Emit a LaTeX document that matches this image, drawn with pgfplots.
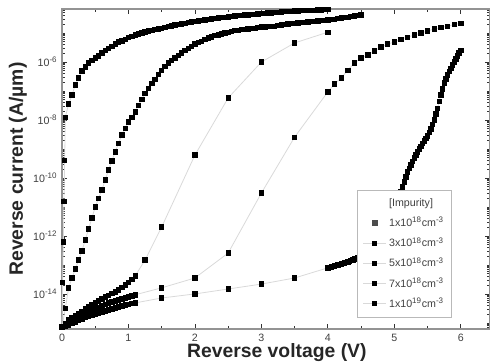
\documentclass[border=0pt]{standalone}
\usepackage{pgfplots}
\pgfplotsset{compat=1.18}
\usepackage{fontspec}
\setmainfont{Liberation Sans}
\begin{document}
\begin{tikzpicture}
\useasboundingbox (-46.5pt,-24.75pt) rectangle (321pt,246.75pt);
\begin{axis}[
  scale only axis, width=321pt, height=240pt,
  xmin=0, xmax=6.44, ymin=-15.21, ymax=-4.17,
  clip=false,
  axis line style={gray!85, line width=1.5pt},
  tick style={black!80, line width=0.6pt},
  major tick length=4pt, minor tick length=2.5pt, tick align=inside,
  xtick={0,1,2,3,4,5,6}, minor xtick={0.5,1.5,2.5,3.5,4.5,5.5},
  ytick={-14,-12,-10,-8,-6},
  yticklabels={10\textsuperscript{-14},10\textsuperscript{-12},10\textsuperscript{-10},10\textsuperscript{-8},10\textsuperscript{-6}},
  minor ytick={-15.155,-15.097,-15.046,-15,
   -14.699,-14.523,-14.398,-14.301,-14.222,-14.155,-14.097,-14.046,
   -13.699,-13.523,-13.398,-13.301,-13.222,-13.155,-13.097,-13.046,-13,
   -12.699,-12.523,-12.398,-12.301,-12.222,-12.155,-12.097,-12.046,
   -11.699,-11.523,-11.398,-11.301,-11.222,-11.155,-11.097,-11.046,-11,
   -10.699,-10.523,-10.398,-10.301,-10.222,-10.155,-10.097,-10.046,
   -9.699,-9.523,-9.398,-9.301,-9.222,-9.155,-9.097,-9.046,-9,
   -8.699,-8.523,-8.398,-8.301,-8.222,-8.155,-8.097,-8.046,
   -7.699,-7.523,-7.398,-7.301,-7.222,-7.155,-7.097,-7.046,-7,
   -6.699,-6.523,-6.398,-6.301,-6.222,-6.155,-6.097,-6.046,
   -5.699,-5.523,-5.398,-5.301,-5.222,-5.155,-5.097,-5.046,-5,
   -4.699,-4.523,-4.398,-4.301,-4.222},
  /pgf/number format/assume math mode=true,
  ticklabel style={font=\fontsize{8}{9}\selectfont, text=black!75},
  xlabel={Reverse voltage (V)},
  ylabel={Reverse current (A/\textmu m)},
  label style={font=\bfseries\fontsize{14.5}{16}\selectfont, text=black!85},
  xlabel style={at={(axis description cs:0.502,-0.072)}, anchor=center},
  ylabel style={at={(axis description cs:-0.1028,0.5)}, anchor=center},
  ser/.style={color=gray!30, line width=0.6pt,
    mark=square*, mark size=1.65pt, mark options={draw=black, fill=black}},
  legend style={at={(0.689,0.434)}, anchor=north west, draw=gray!55,
    line width=1pt, font=\fontsize{8}{9}\selectfont, text=black!75,
    row sep=2.6pt, inner xsep=4pt, inner ysep=4pt},
  legend cell align=left,
]
\addlegendimage{empty legend}
\addlegendentry{[Impurity]}
\addlegendimage{only marks, mark=square*, mark size=1.65pt, mark options={draw=black!70, fill=black!70}}
\addlegendentry{1x10\textsuperscript{18}cm\textsuperscript{-3}}
% 1e18
\addplot[ser, forget plot] coordinates {(0,-15.14) (0.05,-15.10) (0.1,-15.07) (0.15,-15.02) (0.2,-14.97) (0.25,-14.92) (0.3,-14.86) (0.35,-14.82) (0.4,-14.78) (0.45,-14.73) (0.5,-14.69) (0.55,-14.66) (0.6,-14.62) (0.65,-14.59) (0.7,-14.55) (0.75,-14.52) (0.8,-14.48) (0.85,-14.45) (0.9,-14.41) (0.95,-14.38) (1.0,-14.36) (1.05,-14.33) (1.1,-14.31) (1.5,-14.14) (2.0,-14.0) (2.5,-13.83) (3.0,-13.66) (3.5,-13.45) (4.0,-13.10) (4.025,-13.085) (4.05,-13.07) (4.075,-13.05) (4.1,-13.03) (4.125,-13.015) (4.15,-13.00) (4.175,-12.985) (4.2,-12.97) (4.225,-12.95) (4.25,-12.93) (4.275,-12.915) (4.3,-12.90) (4.325,-12.875) (4.35,-12.85) (4.375,-12.82) (4.4,-12.79) (4.425,-12.765) (4.45,-12.74) (4.475,-12.715) (4.5,-12.69) (4.525,-12.655) (4.55,-12.62) (4.575,-12.585) (4.6,-12.55) (4.625,-12.51) (4.65,-12.47) (4.675,-12.425) (4.7,-12.38) (4.725,-12.325) (4.75,-12.27) (4.775,-12.205) (4.8,-12.14) (4.825,-12.06) (4.85,-11.98) (4.875,-11.885) (4.9,-11.79) (4.925,-11.67) (4.95,-11.55) (4.975,-11.415) (5.0,-11.28) (5.025,-11.09) (5.05,-10.90) (5.075,-10.69) (5.1,-10.48) (5.125,-10.31) (5.15,-10.14) (5.175,-9.965) (5.2,-9.79) (5.225,-9.67) (5.25,-9.55) (5.275,-9.43) (5.3,-9.31) (5.325,-9.205) (5.35,-9.10) (5.375,-9.00) (5.4,-8.90) (5.425,-8.81) (5.45,-8.72) (5.475,-8.635) (5.5,-8.55) (5.525,-8.425) (5.55,-8.30) (5.575,-8.15) (5.6,-8.0) (5.625,-7.795) (5.65,-7.59) (5.675,-7.365) (5.7,-7.14) (5.725,-6.93) (5.75,-6.72) (5.775,-6.585) (5.8,-6.45) (5.825,-6.33) (5.85,-6.21) (5.875,-6.105) (5.9,-6.0) (5.925,-5.895) (5.95,-5.79) (5.975,-5.69) (6.0,-5.59)};
% 3e18
\addplot[ser] coordinates {(0,-15.14) (0.05,-15.07) (0.1,-14.97) (0.15,-14.90) (0.2,-14.83) (0.25,-14.78) (0.3,-14.72) (0.35,-14.67) (0.4,-14.62) (0.45,-14.57) (0.5,-14.52) (0.55,-14.46) (0.6,-14.41) (0.65,-14.36) (0.7,-14.31) (0.75,-14.28) (0.8,-14.24) (0.85,-14.21) (0.9,-14.17) (0.95,-14.14) (1.0,-14.10) (1.05,-14.07) (1.1,-14.03) (1.5,-13.79) (2.0,-13.45) (2.5,-12.59) (3.0,-10.52) (3.5,-8.59) (4.0,-7.03) (4.1,-6.76) (4.2,-6.55) (4.3,-6.28) (4.4,-6.03) (4.5,-5.86) (4.6,-5.76) (4.7,-5.62) (4.8,-5.48) (4.9,-5.38) (5.0,-5.31) (5.1,-5.21) (5.2,-5.14) (5.3,-5.07) (5.4,-5.00) (5.5,-4.93) (5.6,-4.86) (5.7,-4.81) (5.8,-4.76) (5.9,-4.71) (6.0,-4.66)};
\addlegendentry{3x10\textsuperscript{18}cm\textsuperscript{-3}}
% 5e18
\addplot[ser] coordinates {(0,-15.14) (0.05,-15.03) (0.1,-14.90) (0.15,-14.83) (0.2,-14.74) (0.25,-14.67) (0.3,-14.60) (0.35,-14.52) (0.4,-14.45) (0.45,-14.38) (0.5,-14.31) (0.55,-14.24) (0.6,-14.17) (0.65,-14.10) (0.7,-14.05) (0.75,-13.98) (0.8,-13.93) (0.85,-13.86) (0.9,-13.78) (0.95,-13.69) (1.0,-13.60) (1.05,-13.50) (1.1,-13.38) (1.25,-12.83) (1.5,-11.69) (2.0,-9.21) (2.5,-7.24) (3.0,-6.0) (3.5,-5.34) (4.0,-4.97)};
\addlegendentry{5x10\textsuperscript{18}cm\textsuperscript{-3}}
% 7e18
\addplot[ser] coordinates {(0,-15.14) (0.05,-14.5) (0.1,-13.79) (0.15,-13.45) (0.2,-13.14) (0.25,-12.83) (0.3,-12.52) (0.35,-12.14) (0.4,-11.76) (0.45,-11.38) (0.5,-11.0) (0.55,-10.70) (0.6,-10.41) (0.65,-10.07) (0.7,-9.72) (0.75,-9.41) (0.8,-9.10) (0.85,-8.81) (0.9,-8.52) (0.95,-8.29) (1.0,-8.07) (1.05,-7.90) (1.1,-7.72) (1.15,-7.50) (1.2,-7.28) (1.25,-7.09) (1.3,-6.90) (1.35,-6.74) (1.4,-6.59) (1.45,-6.43) (1.5,-6.28) (1.55,-6.15) (1.6,-6.03) (1.65,-5.94) (1.7,-5.86) (1.75,-5.77) (1.8,-5.69) (1.85,-5.60) (1.9,-5.52) (1.95,-5.45) (2.0,-5.38) (2.05,-5.33) (2.1,-5.28) (2.15,-5.22) (2.2,-5.17) (2.25,-5.13) (2.3,-5.09) (2.35,-5.06) (2.4,-5.03) (2.45,-5.00) (2.5,-4.97) (2.55,-4.94) (2.6,-4.91) (2.65,-4.90) (2.7,-4.88) (2.75,-4.87) (2.8,-4.86) (2.85,-4.84) (2.9,-4.83) (2.95,-4.81) (3.0,-4.79) (3.05,-4.785) (3.1,-4.78) (3.15,-4.77) (3.2,-4.76) (3.25,-4.74) (3.3,-4.72) (3.35,-4.705) (3.4,-4.69) (3.45,-4.675) (3.5,-4.66) (3.55,-4.65) (3.6,-4.64) (3.65,-4.63) (3.7,-4.62) (3.75,-4.605) (3.8,-4.59) (3.85,-4.58) (3.9,-4.57) (3.95,-4.56) (4.0,-4.55) (4.05,-4.535) (4.1,-4.52) (4.15,-4.50) (4.2,-4.48) (4.25,-4.465) (4.3,-4.45) (4.35,-4.43) (4.4,-4.41) (4.45,-4.395) (4.5,-4.38)};
\addlegendentry{7x10\textsuperscript{18}cm\textsuperscript{-3}}
% 1e19
\addplot[ser] coordinates {(0,-15.14) (0.01,-13.6) (0.02,-12.2) (0.03,-10.8) (0.04,-9.4) (0.05,-7.9) (0.1,-7.45) (0.15,-7.14) (0.2,-6.79) (0.25,-6.55) (0.3,-6.31) (0.35,-6.17) (0.4,-6.03) (0.45,-5.95) (0.5,-5.86) (0.55,-5.79) (0.6,-5.69) (0.65,-5.60) (0.7,-5.52) (0.75,-5.45) (0.8,-5.38) (0.85,-5.31) (0.9,-5.27) (0.95,-5.21) (1.0,-5.16) (1.05,-5.11) (1.1,-5.07) (1.15,-5.03) (1.2,-5.00) (1.25,-4.96) (1.3,-4.93) (1.35,-4.90) (1.4,-4.88) (1.45,-4.85) (1.5,-4.83) (1.55,-4.80) (1.6,-4.78) (1.65,-4.75) (1.7,-4.72) (1.75,-4.70) (1.8,-4.69) (1.85,-4.66) (1.9,-4.64) (1.95,-4.62) (2.0,-4.60) (2.05,-4.58) (2.1,-4.56) (2.15,-4.54) (2.2,-4.52) (2.25,-4.51) (2.3,-4.49) (2.35,-4.48) (2.4,-4.47) (2.45,-4.45) (2.5,-4.44) (2.55,-4.42) (2.6,-4.41) (2.65,-4.40) (2.7,-4.39) (2.75,-4.38) (2.8,-4.38) (2.85,-4.36) (2.9,-4.35) (2.95,-4.34) (3.0,-4.33) (3.05,-4.32) (3.1,-4.31) (3.15,-4.30) (3.2,-4.29) (3.25,-4.28) (3.3,-4.27) (3.35,-4.26) (3.4,-4.26) (3.45,-4.25) (3.5,-4.24) (3.55,-4.23) (3.6,-4.22) (3.65,-4.22) (3.7,-4.21) (3.75,-4.21) (3.8,-4.21) (3.85,-4.20) (3.9,-4.20) (3.95,-4.19) (4.0,-4.19)};
\addlegendentry{1x10\textsuperscript{19}cm\textsuperscript{-3}}
\end{axis}
\end{tikzpicture}
\end{document}
